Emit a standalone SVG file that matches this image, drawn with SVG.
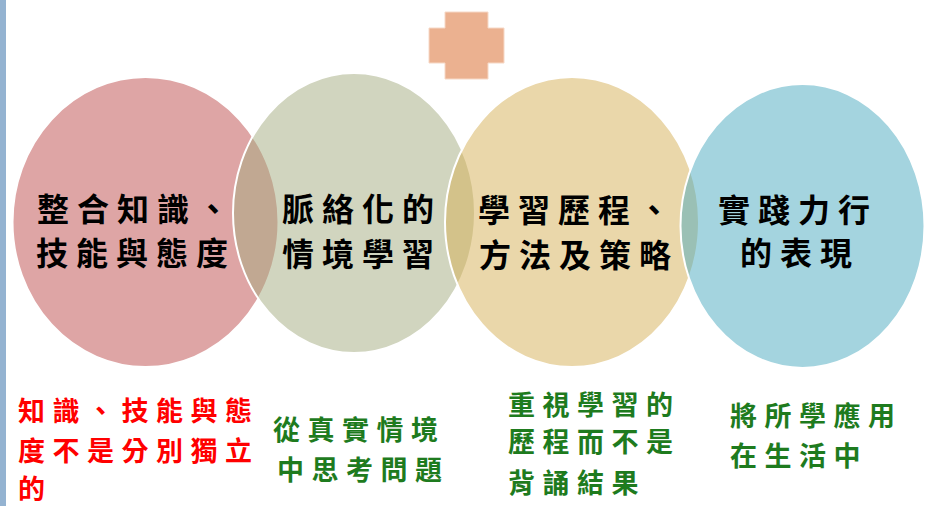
<svg xmlns="http://www.w3.org/2000/svg" width="925" height="506" viewBox="0 0 925 506">
<style>
.c{stroke:#ffffff;stroke-width:2;fill-opacity:0.5}
.m{font-family:"Noto Sans CJK TC","Noto Sans CJK SC",sans-serif;font-size:32px;font-weight:bold;fill:#000;letter-spacing:8px}
.s{font-family:"Noto Sans CJK TC","Noto Sans CJK SC",sans-serif;font-size:27px;font-weight:bold;letter-spacing:7.5px}
.r{fill:#ff0000}
.g{fill:#1e7b1e}
</style>
<rect x="0" y="0" width="925" height="506" fill="#ffffff"/>
<rect x="0" y="0" width="6" height="506" fill="#94b3d1"/>
<g id="cross">
<path d="M445 12 H488 V28 H504 V63 H488 V79 H445 V63 H429 V28 H445 Z" fill="#ebb190" stroke="#f6d8c6" stroke-width="1"/>
</g>
<g id="node1">
<ellipse class="c" cx="145.5" cy="222" rx="133" ry="145" fill="#bd4b4b"/>
</g>
<g id="node2">
<ellipse class="c" cx="354" cy="213" rx="121" ry="140" fill="#a3ab7f"/>
</g>
<g id="node3">
<ellipse class="c" cx="572" cy="222" rx="127" ry="145" fill="#d5af55"/>
</g>
<g id="node4">
<ellipse class="c" cx="802.5" cy="226" rx="122" ry="142" fill="#49a9bf"/>
</g>
<g id="labels">
<text class="m" x="37" y="221">整合知識、</text>
<text class="m" x="36" y="265">技能與態度</text>
<text class="m" x="282" y="221">脈絡化的</text>
<text class="m" x="282" y="266">情境學習</text>
<text class="m" x="478" y="222">學習歷程、</text>
<text class="m" x="479" y="267">方法及策略</text>
<text class="m" x="718" y="222">實踐力行</text>
<text class="m" x="740" y="265">的表現</text>
</g>
<g id="notes">
<text class="s r" x="18" y="421">知識、技能與態</text>
<text class="s r" x="18" y="461">度不是分別獨立</text>
<text class="s r" x="18" y="499">的</text>
<text class="s g" x="273" y="440">從真實情境</text>
<text class="s g" x="277" y="480">中思考問題</text>
<text class="s g" x="508" y="415">重視學習的</text>
<text class="s g" x="508" y="452">歷程而不是</text>
<text class="s g" x="508" y="493">背誦結果</text>
<text class="s g" x="730" y="426">將所學應用</text>
<text class="s g" x="730" y="466">在生活中</text>
</g>
</svg>
